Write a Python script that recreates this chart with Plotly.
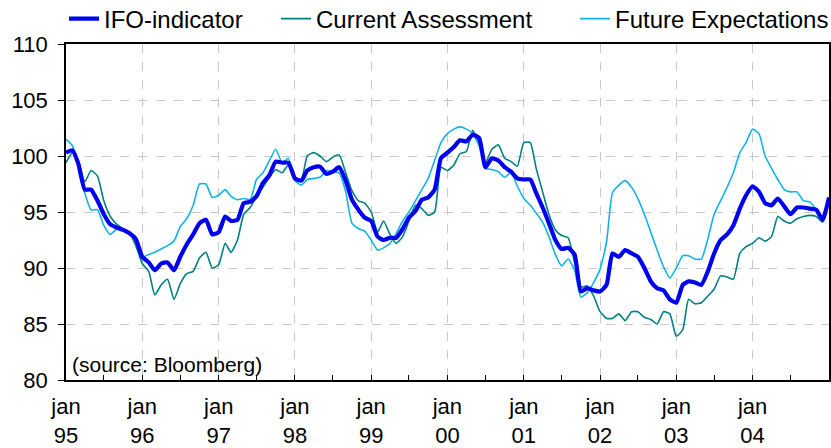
import pandas as pd
import plotly.graph_objects as go

# monthly observations, jan 95 .. jan 05
months = pd.date_range("1995-01-01", periods=121, freq="MS")

ifo = [
    100.3, 100.5, 99.3, 97.0, 97.0, 96.0, 94.8, 93.9, 93.6, 93.4, 93.1, 92.6,
    91.0, 90.5, 89.8, 90.4, 90.5, 89.8, 91.0, 92.1, 93.0, 94.0, 94.3, 93.0,
    93.2, 94.6, 94.2, 94.3, 95.8, 95.9, 96.4, 97.6, 98.3, 99.5, 99.4, 99.4,
    98.0, 97.8, 98.7, 99.0, 99.05, 98.4, 98.6, 99.0, 97.8, 96.1, 95.2, 94.5,
    94.2, 92.8, 92.5, 92.7, 92.7, 93.5, 94.5, 95.1, 96.1, 96.3, 97.0, 99.8,
    100.3, 100.8, 101.4, 101.3, 101.9, 101.6, 99.0, 99.8, 99.6, 99.0, 98.6, 98.0,
    97.9, 97.9, 96.7, 95.4, 94.0, 92.5, 91.7, 91.8, 91.2, 87.9, 88.2, 88.0,
    87.9, 88.5, 91.3, 91.0, 91.6, 91.3, 91.0, 90.0, 88.8, 88.2, 88.0, 87.2,
    86.9, 88.5, 88.8, 88.7, 88.5, 89.7, 91.3, 92.5, 93.0, 93.8, 95.3, 96.5,
    97.3, 96.8, 95.8, 95.6, 96.2, 95.5, 94.8, 95.4, 95.4, 95.3, 95.2, 94.3,
    96.3,
]

current = [
    99.4, 100.3, 99.6, 97.7, 98.7, 98.2, 96.0, 94.6, 93.9, 93.5, 93.1, 92.0,
    90.4, 89.7, 87.6, 88.5, 89.0, 87.2, 88.6, 89.5, 89.7, 90.9, 91.4, 90.0,
    90.3, 92.2, 91.4, 92.5, 94.8, 95.4, 96.4, 97.2, 98.1, 98.8, 98.5, 99.2,
    98.0, 97.9, 100.0, 100.3, 100.0, 99.5, 99.9, 100.1, 98.5, 96.9, 96.0, 95.8,
    95.0, 93.2, 94.2, 93.0, 92.2, 92.8, 94.2, 95.6, 95.3, 94.7, 95.0, 99.0,
    98.7, 99.2, 100.2, 100.4, 102.3, 101.0, 99.4, 100.6, 101.0, 99.8, 99.5, 99.1,
    101.2, 101.2, 98.9, 96.8, 94.8, 93.4, 92.9, 92.7, 90.5, 88.3, 88.4, 87.5,
    86.1, 85.5, 85.5, 85.9, 85.3, 86.1, 86.1, 85.6, 85.4, 85.0, 86.1, 85.9,
    83.9, 84.5, 87.2, 86.8, 86.9, 87.5, 88.1, 89.3, 89.2, 89.0, 91.3, 91.9,
    92.2, 92.7, 92.4, 92.8, 94.6, 94.2, 94.0, 94.4, 94.6, 94.7, 94.6, 94.1,
    96.0,
]

future = [
    101.5, 100.9, 99.2, 96.7, 95.2, 95.2, 93.8, 93.0, 93.5, 93.5, 93.1, 92.5,
    91.0, 91.2, 91.4, 91.7, 92.0, 92.4, 93.7, 94.4, 95.6, 97.5, 97.5, 96.3,
    96.5, 97.0, 96.4, 96.1, 96.2, 96.1, 97.9, 98.5, 99.6, 100.6, 99.4, 99.8,
    97.8, 97.4, 97.9, 98.0, 98.1, 98.7, 98.6, 98.5, 96.8, 94.0, 93.5, 93.3,
    92.5, 91.6, 91.8, 92.2, 93.1, 94.2, 95.0, 96.0, 97.0, 98.0, 99.6, 101.2,
    102.0, 102.4, 102.6, 102.4, 102.0, 100.9, 98.9, 98.8, 98.6, 98.1, 98.5, 97.3,
    96.2, 95.6, 94.9, 94.1, 92.8, 91.2, 90.2, 90.8, 89.8, 87.4, 87.8, 88.7,
    89.9, 92.3, 96.7, 97.4, 97.8, 97.2, 96.2, 94.8, 93.2, 91.6, 90.1, 89.1,
    90.0, 91.1, 91.1, 90.8, 90.8, 92.6, 94.8, 96.0, 97.2, 98.5, 100.3, 101.2,
    102.4, 102.0, 100.0, 98.9, 97.9, 97.0, 96.8, 96.8, 96.0, 95.9, 95.2, 94.3,
    96.3,
]

years = ["95", "96", "97", "98", "99", "00", "01", "02", "03", "04"]
tick_dates = pd.date_range("1995-01-01", periods=10, freq="YS")
tick_text = ["jan<br>" + y for y in years]

font = "Liberation Sans, Arial, sans-serif"

fig = go.Figure()
fig.add_trace(go.Scatter(x=months, y=current, name="Current Assessment",
                         mode="lines", legend="legend2",
                         line=dict(color="#008080", width=1.6,
                                   shape="spline", smoothing=0.5)))
fig.add_trace(go.Scatter(x=months, y=future, name="Future Expectations",
                         mode="lines", legend="legend3",
                         line=dict(color="#11B4E8", width=1.6,
                                   shape="spline", smoothing=0.5)))
fig.add_trace(go.Scatter(x=months, y=ifo, name="IFO-indicator",
                         mode="lines", legend="legend",
                         line=dict(color="#0000F0", width=4.2,
                                   shape="spline", smoothing=0.5)))

fig.add_annotation(text="(source: Bloomberg)", xref="paper", yref="paper",
                   x=0.005, y=0.005, xanchor="left", yanchor="bottom",
                   showarrow=False, font=dict(size=21, color="black"))

W, H = 831, 448
leg = dict(orientation="h", xref="container", yref="container",
           xanchor="left", y=1 - 19 / H, yanchor="middle",
           font=dict(size=24), bgcolor="rgba(0,0,0,0)")

fig.update_layout(
    width=W, height=H,
    margin=dict(l=66, r=2, t=44, b=68, autoexpand=False),
    paper_bgcolor="white", plot_bgcolor="white",
    font=dict(family=font, size=22, color="black"),
    showlegend=True,
    legend=dict(leg, x=64 / W),
    legend2=dict(leg, x=276 / W),
    legend3=dict(leg, x=575 / W),
)

fig.update_xaxes(
    range=[months[0], months[-1]],
    tickvals=tick_dates, ticktext=tick_text, tickangle=0,
    showgrid=True, gridcolor="#C8C8C8", griddash="dash", gridwidth=1,
    showline=True, linecolor="black", linewidth=1.5, mirror=True,
    ticks="inside", ticklen=5, tickcolor="black",
    minor=dict(ticks="inside", ticklen=5, tickcolor="black",
               tickvals=pd.date_range("1995-07-01", periods=10, freq="12MS"),
               showgrid=False),
    ticklabelstandoff=6, zeroline=False, automargin=False,
)
fig.update_yaxes(
    range=[80, 110], tickvals=[80, 85, 90, 95, 100, 105, 110],
    showgrid=True, gridcolor="#C8C8C8", griddash="dash", gridwidth=1,
    showline=True, linecolor="black", linewidth=1.5, mirror=True,
    ticks="outside", ticklen=6, tickcolor="black", zeroline=False,
    ticklabelstandoff=6, automargin=False,
)

# drop the default page margin so the figure fills the window exactly
fig.write_html("out.html", config={"displayModeBar": False},
               post_script="document.body.style.margin = '0';")
